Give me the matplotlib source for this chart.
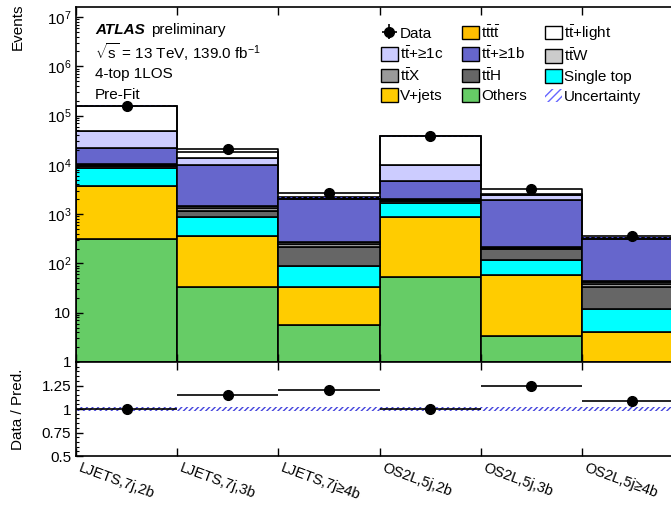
import numpy as np
import matplotlib
matplotlib.use("Agg")
import matplotlib.pyplot as plt
from matplotlib.patches import Patch
from matplotlib.ticker import LogLocator, FuncFormatter, MultipleLocator, FixedLocator
import matplotlib.transforms as mtransforms

plt.rcParams['font.family'] = ['Liberation Sans', 'DejaVu Sans']
plt.rcParams['mathtext.fontset'] = 'custom'
plt.rcParams['mathtext.rm'] = 'Liberation Sans'
plt.rcParams['mathtext.it'] = 'Liberation Sans:italic'
plt.rcParams['mathtext.bf'] = 'Liberation Sans:bold'
plt.rcParams['hatch.linewidth'] = 1.0

# regions (bins)
categories = ["LJETS,7j,2b", "LJETS,7j,3b", "LJETS,7j\u22654b",
              "OS2L,5j,2b", "OS2L,5j,3b", "OS2L,5j\u22654b"]

# stacked backgrounds, bottom to top
others = [320, 33, 5.6, 54, 3.4, 0.5]
vjets = [3480, 327, 28, 806, 53.6, 3.5]
single_top = [4900, 500, 56, 800, 60, 7.9]
tth = [700, 310, 128, 150, 76, 20.8]
ttx = [450, 150, 29, 120, 15, 5.3]
ttw = [400, 130, 23, 100, 10, 4.5]
tttt = [25, 20, 5, 10, 2, 1]
tt_1b = [12200, 8430, 1715, 2660, 1720, 270]
tt_1c = [25500, 3600, 150, 5100, 500, 12]
tt_light = [110000, 4700, 50, 28000, 130, 6]

data = [158500, 21000, 2640, 38000, 3200, 360]

TT = r'$\mathrm{t\bar{t}}$'
L_OTH, L_VJ, L_ST = 'Others', 'V+jets', 'Single top'
L_TTH = r'$\mathrm{t\bar{t}H}$'
L_TTX = r'$\mathrm{t\bar{t}X}$'
L_TTW = r'$\mathrm{t\bar{t}W}$'
L_4T = r'$\mathrm{t\bar{t}t\bar{t}}$'
L_1B, L_1C, L_LF = TT + '+\u22651b', TT + '+\u22651c', TT + '+light'

# (values, colour, label)
stack = [
    (others, '#66cc66', L_OTH),
    (vjets, '#ffcc00', L_VJ),
    (single_top, '#00ffff', L_ST),
    (tth, '#666666', L_TTH),
    (ttx, '#999999', L_TTX),
    (ttw, '#cccccc', L_TTW),
    (tttt, '#ffbf00', L_4T),
    (tt_1b, '#6666cc', L_1B),
    (tt_1c, '#ccccff', L_1C),
    (tt_light, '#ffffff', L_LF),
]

fig = plt.figure(figsize=(6.71, 5.05), dpi=100)
# axes reach past the right edge, like the cropped original
ax = fig.add_axes([0.1133, 0.2832, 0.9046, 0.703])
rax = fig.add_axes([0.1133, 0.097, 0.9046, 0.186], sharex=ax)

nb = len(categories)
x = np.arange(nb) + 0.5
edges = np.arange(nb + 1)

bottom = np.zeros(nb)
patches = {}
for vals, col, lab in stack:
    vals = np.array(vals, dtype=float)
    ax.bar(x, vals, width=1.0, bottom=bottom, color=col,
           edgecolor='black', linewidth=1.2)
    patches[lab] = Patch(facecolor=col, edgecolor='black', linewidth=1.0)
    bottom += vals
pred = bottom.copy()
data = np.array(data, dtype=float)

# uncertainty band
unc = 0.02
band_lo = np.append(pred * (1 - unc), pred[-1] * (1 - unc))
band_hi = np.append(pred * (1 + unc), pred[-1] * (1 + unc))
ax.fill_between(edges, band_lo, band_hi, step='post', facecolor='none',
                edgecolor='#4444dd', hatch='//////', linewidth=0)
# outline at the data level
ax.step(edges, np.append(data, data[-1]), where='post', color='black', lw=1.2)

h_data = ax.errorbar(x, data, yerr=np.sqrt(data), xerr=np.zeros(nb), fmt='o',
                     color='black', ms=7, lw=1.2)

ax.set_yscale('log')
ax.set_ylim(1, 1.6e7)
ax.set_xlim(0, nb)

def log_fmt(v, pos):
    e = int(round(np.log10(v)))
    if e == 0:
        return '1'
    if e == 1:
        return '10'
    return r'$10^{%d}$' % e

ax.yaxis.set_major_locator(LogLocator(base=10, numticks=10))
ax.yaxis.set_minor_locator(LogLocator(base=10, subs=np.arange(2, 10), numticks=20))
ax.yaxis.set_major_formatter(FuncFormatter(log_fmt))
ax.yaxis.set_minor_formatter(FuncFormatter(lambda v, p: ''))

for a in (ax, rax):
    a.xaxis.set_major_locator(FixedLocator(edges))
    a.tick_params(axis='x', which='major', direction='in', length=6, width=1,
                  top=True, labelbottom=False)
    a.tick_params(axis='y', which='major', direction='in', length=5, width=1,
                  labelsize=11)
    a.tick_params(axis='y', which='minor', direction='in', length=2.5, width=0.8)
    for s in a.spines.values():
        s.set_linewidth(1.2)

# ratio panel
ratio = data / pred
rax.fill_between(edges, np.full(nb + 1, 1 - unc), np.full(nb + 1, 1 + unc),
                 step='post', facecolor='none', edgecolor='#4444dd',
                 hatch='//////', linewidth=0)
rax.errorbar(x, ratio, xerr=0.5, yerr=np.sqrt(data) / pred, fmt='o',
             color='black', ms=7, lw=1.2)
rax.set_ylim(0.5, 1.5)
rax.set_yticks([0.5, 0.75, 1.0, 1.25])
rax.set_yticklabels(['0.5', '0.75', '1', '1.25'])
rax.yaxis.set_minor_locator(MultipleLocator(0.05))

# bin labels
trans = mtransforms.blended_transform_factory(rax.transData, rax.transAxes)
for i, lab in enumerate(categories):
    rax.text(i + 0.05, -0.05, lab, transform=trans, rotation=-20,
             rotation_mode='anchor', ha='left', va='top', fontsize=10.5)

fig.text(18 / 671, 1 - 4 / 505, 'Events', rotation=90, ha='center', va='top', fontsize=11)
fig.text(18 / 671, 1 - 409 / 505, 'Data / Pred.', rotation=90, ha='center',
         va='center', fontsize=11)

# labels
fig.text(95 / 671, 1 - 30 / 505, 'ATLAS', fontsize=11, fontweight='bold',
         fontstyle='italic', va='center')
fig.text(151 / 671, 1 - 30 / 505, 'preliminary', fontsize=11, va='center')
fig.text(95 / 671, 1 - 52 / 505, r'$\sqrt{\mathrm{s}}$ = 13 TeV, 139.0 fb$^{-1}$',
         fontsize=11, va='center')
fig.text(95 / 671, 1 - 74 / 505, '4-top 1LOS', fontsize=11, va='center')
fig.text(95 / 671, 1 - 95 / 505, 'Pre-Fit', fontsize=11, va='center')

# legend, filled row by row in the original
h_unc = Patch(facecolor='none', edgecolor='#6666ff', hatch='////', linewidth=0)
order = [
    (h_data, 'Data'), (patches[L_1C], L_1C), (patches[L_TTX], L_TTX), (patches[L_VJ], L_VJ),
    (patches[L_4T], L_4T), (patches[L_1B], L_1B), (patches[L_TTH], L_TTH), (patches[L_OTH], L_OTH),
    (patches[L_LF], L_LF), (patches[L_TTW], L_TTW), (patches[L_ST], L_ST), (h_unc, 'Uncertainty'),
]
ax.legend([h for h, _ in order], [l for _, l in order], ncol=3, frameon=False,
          loc='upper left', bbox_to_anchor=(381 / 671, 1 - 23 / 505),
          bbox_transform=fig.transFigure, fontsize=11, handlelength=1.1,
          handleheight=1.0, handletextpad=0.15, columnspacing=1.2,
          labelspacing=0.3, borderpad=0, borderaxespad=0)

fig.savefig('out.png', dpi=100)
